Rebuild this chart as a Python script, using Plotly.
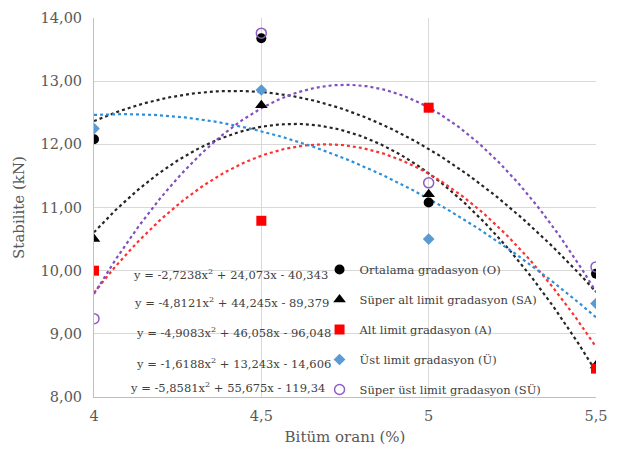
import numpy as np
import plotly.graph_objects as go

# ---- data ----
bitumen = [4.0, 4.5, 5.0, 5.5]
tick_text = ["4", "4,5", "5", "5,5"]
names = ["Ortalama gradasyon (O)", "Süper alt limit gradasyon (SA)",
         "Alt limit gradasyon (A)", "Üst limit gradasyon (Ü)",
         "Süper üst limit gradasyon (SÜ)"]
ortalama = [12.08, 13.68, 11.08, 9.95]
super_alt = [10.50, 12.62, 11.21, 8.50]
alt_limit = [10.00, 10.79, 12.58, 8.45]
ust_limit = [12.25, 12.86, 10.50, 9.48]
super_ust = [9.24, 13.76, 11.39, 10.06]
# trendline coefficients (a, b, c) from the chart equations
coef_o = [-2.7238, 24.073, -40.343]
coef_sa = [-4.8121, 44.245, -89.379]
coef_a = [-4.9083, 46.058, -96.048]
coef_u = [-1.6188, 13.243, -14.606]
coef_su = [-5.8581, 55.675, -119.34]

series = [ortalama, super_alt, alt_limit, ust_limit, super_ust]
coefs = [coef_o, coef_sa, coef_a, coef_u, coef_su]

colors = ["#000000", "#000000", "#FF0000", "#5B9BD5", "#8E5CC8"]
line_colors = ["#262626", "#262626", "#FF3030", "#2E8FD8", "#8050C0"]
symbols = ["circle", "triangle-up", "square", "diamond", "circle-open"]
sizes = [10, 11, 10, 9, 10]

FONT = "DejaVu Serif"

fig = go.Figure()

xs = np.linspace(bitumen[0], bitumen[-1], 200)
for c, lc in zip(coefs, line_colors):
    fig.add_trace(go.Scatter(x=xs, y=np.polyval(c, xs), mode="lines",
                             line=dict(color=lc, width=2.2, dash="dot"),
                             showlegend=False, hoverinfo="skip"))

for i, (ys, nm) in enumerate(zip(series, names)):
    mk = dict(color=colors[i], size=sizes[i], symbol=symbols[i])
    if symbols[i] == "circle-open":
        mk["line"] = dict(color=colors[i], width=1.5)
    fig.add_trace(go.Scatter(x=bitumen, y=ys, mode="markers", name=nm,
                             marker=mk, legendgroup=str(i)))


def fmt(v):
    return repr(abs(v)).replace(".", ",")


def eq_text(c):
    a, b, k = c
    s = "y = " + ("-" if a < 0 else "") + fmt(a) + "x<sup>2</sup>"
    s += (" - " if b < 0 else " + ") + fmt(b) + "x"
    s += (" - " if k < 0 else " + ") + fmt(k)
    return s

eq_pos = [(131, 272), (132, 300), (134, 331), (134, 363), (128, 387)]
for c, (px, py) in zip(coefs, eq_pos):
    fig.add_annotation(text=eq_text(c), xref="paper", yref="paper",
                       x=(px - 94) / (597 - 94), y=1 - (py - 10) / (397 - 10),
                       xanchor="left", yanchor="middle", showarrow=False,
                       font=dict(family=FONT, size=11.5, color="#404040"))

fig.update_layout(
    width=618, height=461,
    margin=dict(l=94, r=21, t=10, b=64),
    paper_bgcolor="white", plot_bgcolor="white",
    separators=",.",
    font=dict(family=FONT, color="#595959"),
    legend=dict(x=(320 - 94) / (597 - 94), y=1 - (252 - 10) / (397 - 10),
                xanchor="left", yanchor="top", bgcolor="rgba(0,0,0,0)",
                font=dict(family=FONT, size=11.5, color="#404040"),
                traceorder="grouped", tracegroupgap=11, itemwidth=30),
    xaxis=dict(range=[4, 5.5], tickvals=bitumen, ticktext=tick_text,
               showgrid=True, gridcolor="#D9D9D9", gridwidth=1,
               showline=True, linecolor="#BFBFBF", zeroline=False,
               ticks="outside", ticklen=6, tickcolor="rgba(0,0,0,0)",
               tickfont=dict(family=FONT, size=14.5, color="#595959"),
               title=dict(text="Bitüm oranı (%)", standoff=8,
                          font=dict(family=FONT, size=15, color="#595959"))),
    yaxis=dict(range=[8, 14], dtick=1, tickformat=".2f",
               showgrid=True, gridcolor="#D9D9D9", gridwidth=1,
               showline=True, linecolor="#BFBFBF", zeroline=False,
               ticks="outside", ticklen=8, tickcolor="rgba(0,0,0,0)",
               tickfont=dict(family=FONT, size=14.5, color="#595959"),
               title=dict(text="Stabilite (kN)", standoff=12,
                          font=dict(family=FONT, size=15, color="#595959"))),
)

fig.write_html("out.html")
